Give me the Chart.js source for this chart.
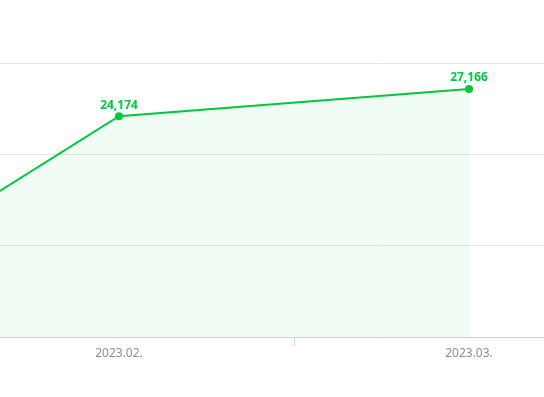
<!DOCTYPE html>
<html>
<head>
<meta charset="utf-8">
<script src="https://cdn.jsdelivr.net/npm/chart.js@4.4.0/dist/chart.umd.min.js"></script>
<style>
    html, body { margin: 0; padding: 0; background: #fff; overflow: hidden; }
    #wrap { position: relative; width: 544px; height: 397px; overflow: hidden; }
    /* the chart is wider than the window, only the right part is visible */
    #trendChart { position: absolute; left: -406px; top: 0; }
</style>
</head>
<body>
<div id="wrap"><canvas id="trendChart" width="1050" height="397"></canvas></div>
<script>
const months = ['2023.01.', '2023.02.', '2023.03.'];
const counts = [120, 24174, 27166];
const yTicks = [0, 10000, 20000, 30000];

const green = '#00c73c';

// draws the value above each point
const valueLabels = {
    id: 'valueLabels',
    afterDatasetsDraw(chart) {
        const ctx = chart.ctx;
        const meta = chart.getDatasetMeta(0);
        ctx.save();
        ctx.font = 'bold 12px "Noto Sans"';
        ctx.fillStyle = green;
        ctx.textAlign = 'center';
        ctx.textBaseline = 'middle';
        meta.data.forEach((pt, i) => {
            ctx.fillText(counts[i].toLocaleString('en-US'), pt.x, pt.y - 11);
        });
        ctx.restore();
    }
};

const ctx = document.getElementById('trendChart').getContext('2d');
new Chart(ctx, {
    type: 'line',
    data: {
        labels: months,
        datasets: [{
            data: counts,
            borderColor: green,
            borderWidth: 2,
            backgroundColor: 'rgba(0, 199, 60, 0.06)',
            fill: 'origin',
            tension: 0,
            pointRadius: 4,
            pointBackgroundColor: green,
            pointBorderColor: green,
            pointBorderWidth: 0
        }]
    },
    options: {
        responsive: false,
        animation: false,
        devicePixelRatio: 1,
        layout: { autoPadding: false, padding: { top: 63, left: 0, right: 0, bottom: 0 } },
        plugins: {
            legend: { display: false },
            tooltip: { enabled: false }
        },
        scales: {
            x: {
                type: 'category',
                offset: true,
                grid: {
                    offset: true,
                    drawOnChartArea: false,
                    drawTicks: true,
                    tickLength: 9,
                    tickColor: '#c9d0e1'
                },
                border: { display: true, color: '#c9d0e1', width: 1 },
                ticks: {
                    padding: 0,
                    color: '#8c8c8c',
                    font: { family: '"Noto Sans"', size: 12 }
                },
                afterFit(scale) {
                    scale.height = 60;
                    scale.paddingLeft = 0;
                    scale.paddingRight = 0;
                }
            },
            y: {
                min: yTicks[0],
                max: yTicks[yTicks.length - 1],
                ticks: { display: false, stepSize: yTicks[1] - yTicks[0] },
                grid: {
                    drawTicks: false,
                    color: (c) => c.tick && c.tick.value === 0 ? 'rgba(0,0,0,0)' : '#e4e4e4'
                },
                border: { display: false },
                afterFit(scale) {
                    scale.width = 0;
                    scale.paddingTop = 0;
                    scale.paddingBottom = 0;
                }
            }
        }
    },
    plugins: [valueLabels]
});
</script>
</body>
</html>
